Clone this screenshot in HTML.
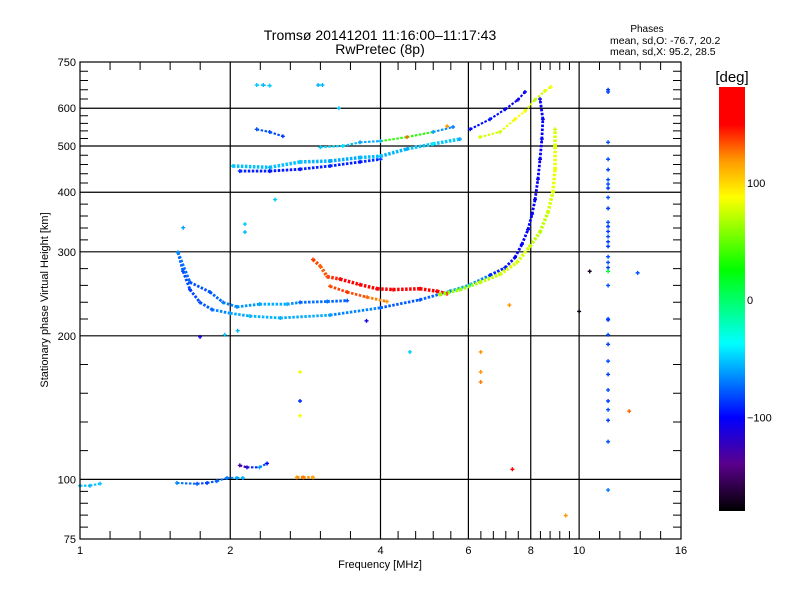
<!DOCTYPE html>
<html><head><meta charset="utf-8"><style>
body{margin:0;background:#fff;}
svg{display:block;font-family:"Liberation Sans",sans-serif;}
</style></head><body>
<svg id="chart" width="800" height="600" viewBox="0 0 800 600">
<rect width="800" height="600" fill="#fff"/>
<text x="380" y="40" text-anchor="middle" font-size="14">Tromsø 20141201 11:16:00–11:17:43</text>
<text x="380" y="54" text-anchor="middle" font-size="14">RwPretec (8p)</text>
<text x="647" y="32" text-anchor="middle" font-size="10">Phases</text>
<text x="610" y="44" font-size="10.5">mean, sd,O: -76.7, 20.2</text>
<text x="610" y="55" font-size="10.5">mean, sd,X:  95.2, 28.5</text>
<g id="grid"></g>
<g id="marks"></g>
<g id="axes"></g>
<g id="cbar"></g>
<text x="380" y="568" text-anchor="middle" font-size="11">Frequency [MHz]</text>
<text transform="translate(48,300) rotate(-90)" text-anchor="middle" font-size="11">Stationary phase Virtual Height [km]</text>
</svg>
<script>
// ---- data ----
const xTicks = [1, 2, 4, 6, 8, 10, 16];
const xTickLabels = ["1", "2", "4", "6", "8", "10", "16"];
const yTicks = [75, 100, 200, 300, 400, 500, 600, 750];
const yTickLabels = ["75", "100", "200", "300", "400", "500", "600", "750"];
const cbTicks = [100, 0, -100];
const cbTickLabels = ["100", "0", "\u2212100"];
// traces: [freq MHz, height km, phase deg]
const traceLowerO = [[1.572,299,-75],[1.609,273,-80],[1.661,250,-85],[1.739,235,-80],[1.839,227,-75],[2.0,223,-60],[2.19,220,-55],[2.52,218,-55],[3.17,221,-60],[4.0,229,-75],[4.8,238,-80],[5.51,248,-70],[6.05,256,-45],[6.63,268,-90],[7.11,278,-95],[7.44,292,-100],[7.68,311,-100],[7.9,334,-100],[8.05,360,-100],[8.16,386,-105],[8.27,426,-100],[8.35,469,-105],[8.42,517,-100],[8.46,569,-100],[8.35,627,-105]];
const traceUpperO = [[1.572,299,-65],[1.661,259,-80],[1.822,247,-80],[1.935,235,-70],[2.063,230,-65],[2.29,233,-60],[2.6,233,-55],[2.76,235,-75],[3.13,236,-70],[3.43,237,-80]];
const traceOrange1 = [[2.93,289,140],[3.03,280,130],[3.13,266,135],[3.32,263,150],[3.64,256,155],[3.94,251,160],[4.24,250,165],[4.8,251,160],[5.19,248,150],[5.44,245,140]];
const traceOrange2 = [[3.17,254,135],[3.43,247,140],[3.76,241,130],[4.12,236,120]];
const traceX = [[5.26,244,65],[5.77,250,60],[6.33,259,70],[6.94,269,75],[7.51,285,80],[7.97,308,75],[8.35,330,70],[8.66,363,75],[8.86,400,80],[8.95,447,85],[8.95,500,80],[8.95,542,75]];
const traceF2a = [[2.025,454,-50],[2.4,451,-55],[2.76,463,-50],[3.17,465,-60],[3.64,473,-55],[4.0,476,-50],[4.52,493,-60],[5.1,505,-40],[5.77,517,-60]];
const traceF2b = [[2.09,443,-90],[2.4,443,-95],[2.76,447,-95],[3.17,454,-90],[3.64,463,-95],[4.0,469,-85]];
const traceF2c = [[3.03,497,-50],[3.36,500,-45],[3.64,509,-60],[4.0,512,-55],[4.52,522,130],[5.1,535,-60],[5.59,548,-70]];
const traceF2d = [[6.05,542,-100],[6.63,569,-95],[7.11,597,-100],[7.54,625,-105],[7.79,649,-100]];
const traceF2e = [[6.33,522,80],[6.94,535,75],[7.44,569,90],[7.79,592,85],[8.16,625,70],[8.54,652,80],[8.77,665,85]];
const traceCluster = [[2.26,542,-80],[2.4,535,-80],[2.55,524,-85]];
const traceTop1 = [[2.26,671,-50],[2.33,671,-55],[2.4,669,-50]];
const traceTop2 = [[3.0,671,-55],[3.06,671,-55]];
const traceE1 = [[1.0,97,-50],[1.047,97,-55],[1.097,98,-50]];
const traceE2 = [[1.564,98.3,-65],[1.716,97.9,-80],[1.797,98.3,-85],[1.88,99.2,-75],[1.97,100.7,-70],[2.063,100.7,-60],[2.12,100.7,-55]];
const traceE3 = [[2.09,107,-130],[2.16,106,-120],[2.29,106,-60],[2.37,108,-100]];
const traceEs = [[2.72,101,120],[2.8,101,125],[2.93,101,115]];
const columnFreq = [11.43,11.43,11.43,11.43,11.43,11.43,11.43,11.43,11.43,11.43,11.43,11.43,11.43,11.43,11.43,11.43,11.43,11.43,11.43,11.43,11.43,11.43,11.43,11.43,11.43,11.43,11.43,11.43,11.43,11.43,11.43,11.43,11.43];
const columnHeight = [656,649,509,469,446,425,416,408,390,370,346,339,331,323,315,308,293,285,278,273,255,217,216,201,192,177,166,154,146,140,133,120,95];
const columnPhase = [-85,-85,-80,-80,-85,-80,-80,-85,-80,-85,-80,-85,-85,-80,-85,-85,-80,-80,-85,10,-80,-80,-85,-80,-85,-80,-85,-80,-85,-80,-85,-80,-70];
const dotFreq = [2.76,2.76,2.76,2.14,2.14,2.46,1.61,4.58,7.25,7.35,10.5,10.0,13.1,12.6,9.4,1.74,1.95,2.07,3.75,5.44,6.35,6.35,6.35,3.3];
const dotHeight = [168,146,136,343,330,386,337,185,232,105,273,225,271,139,84,199,201,205,215,550,185,168,160,600];
const dotPhase = [85,-90,85,-50,-55,-50,-60,-50,120,160,-170,-175,-80,130,120,-110,-50,-55,-110,120,120,120,125,-50];

// ---- scales ----
const X0=80,X1=681,Y0=539,Y1=62;
function xs(f){return X0+(X1-X0)*Math.log2(f)/4;}
function ys(h){return Y0-(Y0-Y1)*Math.log10(h/75)/1;}
const cStops=[[-180,[0,0,0]],[-140,[90,0,140]],[-100,[0,0,255]],[-37,[0,255,255]],[26,[0,255,0]],[88,[255,255,0]],[120,[255,150,0]],[150,[255,0,0]],[182,[255,0,0]]];
function col(p){
  if(p<=cStops[0][0])return "rgb(0,0,0)";
  for(let i=1;i<cStops.length;i++){
    if(p<=cStops[i][0]){const a=cStops[i-1],b=cStops[i],t=(p-a[0])/(b[0]-a[0]);
      const c=a[1].map((v,k)=>Math.round(v+(b[1][k]-v)*t));return "rgb("+c.join(",")+")";}
  }
  return "rgb(255,0,0)";
}
const NS="http://www.w3.org/2000/svg";
function mk(tag,attrs,parent){const e=document.createElementNS(NS,tag);for(const k in attrs)e.setAttribute(k,attrs[k]);parent.appendChild(e);return e;}
const grid=document.getElementById('grid'),marks=document.getElementById('marks'),axes=document.getElementById('axes'),cbar=document.getElementById('cbar');

// grid lines
[2,4,6,8,10].forEach(f=>{const l=mk('line',{x1:xs(f),x2:xs(f),y1:Y1,y2:Y0,stroke:'#000','stroke-width':1.2},grid);

});
[100,200,300,400,500,600].forEach(h=>{const l=mk('line',{x1:X0,x2:X1,y1:ys(h),y2:ys(h),stroke:'#000','stroke-width':1.2},grid);

});

// marks
function cross(x,y,c,name){
  const g=mk('path',{d:`M${x-2},${y}h4M${x},${y-2}v4`,stroke:c,'stroke-width':1.4,fill:'none'},marks);
  
  
}
function drawTrace(arr,name,w){
  for(let i=0;i<arr.length-1;i++){
    const a=arr[i],b=arr[i+1];
    const s=mk('line',{x1:xs(a[0]),y1:ys(a[1]),x2:xs(b[0]),y2:ys(b[1]),stroke:col((a[2]+b[2])/2),'stroke-width':w*0.7,'stroke-dasharray':'2.5 1.5'},marks);
    
    
  }
  arr.forEach(p=>cross(xs(p[0]),ys(p[1]),col(p[2]),name+'-point'));
}
drawTrace(traceLowerO,'lower-o-trace',4);
drawTrace(traceUpperO,'upper-o-trace',4);
drawTrace(traceOrange1,'orange-trace-1',5);
drawTrace(traceOrange2,'orange-trace-2',4);
drawTrace(traceX,'x-mode-trace',5);
drawTrace(traceF2a,'f-trace-cyan',5);
drawTrace(traceF2b,'f-trace-blue',4);
drawTrace(traceF2c,'f-trace-mid',3);
drawTrace(traceF2d,'f-trace-top-blue',3);
drawTrace(traceF2e,'f-trace-top-yellow',3);
drawTrace(traceCluster,'blue-cluster',3);
drawTrace(traceTop1,'top-points-1',2);
drawTrace(traceTop2,'top-points-2',2);
drawTrace(traceE1,'e-trace-1',3);
drawTrace(traceE2,'e-trace-2',3);
drawTrace(traceE3,'e-trace-3',3);
drawTrace(traceEs,'es-trace',4);
columnFreq.forEach((f,i)=>cross(xs(f),ys(columnHeight[i]),col(columnPhase[i]),'column-point'));
dotFreq.forEach((f,i)=>cross(xs(f),ys(dotHeight[i]),col(dotPhase[i]),'scatter-point'));

// frame
const fr=mk('rect',{x:X0,y:Y1,width:X1-X0,height:Y0-Y1,fill:'none',stroke:'#000','stroke-width':1.2},axes);


// x ticks
xTicks.forEach((f,i)=>{
  const x=xs(f);
  const t=mk('text',{x:x,y:554,'text-anchor':'middle','font-size':11},axes);t.textContent=xTickLabels[i];
  
  
  if(i<xTicks.length-1){const x2=xs(xTicks[i+1]);
    for(let k=1;k<5;k++){const xx=x+(x2-x)*k/5;
      const m=mk('path',{d:`M${xx},${Y0}v-8M${xx},${Y1}v8`,stroke:'#000','stroke-width':1},axes);
      
      }}
});
yTicks.forEach((h,i)=>{
  const y=ys(h);
  const t=mk('text',{x:76,y:y+4,'text-anchor':'end','font-size':11},axes);t.textContent=yTickLabels[i];
  
  
  if(i<yTicks.length-1){const y2=ys(yTicks[i+1]);
    for(let k=1;k<5;k++){const yy=y+(y2-y)*k/5;
      const m=mk('path',{d:`M${X0},${yy}h8M${X1},${yy}h-8`,stroke:'#000','stroke-width':1},axes);
      
      }}
});

// colorbar
const CB0=87,CB1=511,CBX=719,CBW=26;
function cy(p){return CB0+(182-p)*(CB1-CB0)/362;}
const defs=mk('defs',{},cbar);
const lg=mk('linearGradient',{id:'cg',x1:0,y1:0,x2:0,y2:1},defs);
cStops.slice().reverse().forEach(s=>{mk('stop',{offset:((cy(s[0])-CB0)/(CB1-CB0)),'stop-color':col(s[0])},lg);});
const cr=mk('rect',{x:CBX,y:CB0,width:CBW,height:CB1-CB0,fill:'url(#cg)'},cbar);


const cu=mk('text',{x:CBX+13,y:CB0-5,'text-anchor':'middle','font-size':15},cbar);cu.textContent='[deg]';


cbTicks.forEach((p,i)=>{const t=mk('text',{x:CBX+CBW+2,y:cy(p)+4,'font-size':11},cbar);t.textContent=cbTickLabels[i];

});
</script>
</body></html>
